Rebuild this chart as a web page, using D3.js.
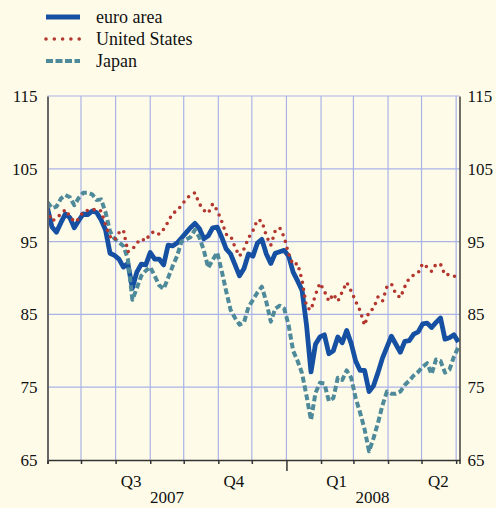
<!DOCTYPE html>
<html>
<head>
  <meta charset="utf-8">
  <title>Stock markets: euro area, United States, Japan</title>
  <script src="https://d3js.org/d3.v7.min.js"></script>
  <style>
    body{margin:0;background:#fefce9;}
    svg text{font-family:"Liberation Serif","Times New Roman",serif;fill:#111;}
  </style>
</head>
<body>
  <script>
      // observation dates (every 4 days), Jun 2007 - Jun 2008
      var dates=[
        "2007-06-01","2007-06-05","2007-06-09","2007-06-13","2007-06-17","2007-06-21","2007-06-25","2007-06-29",
        "2007-07-03","2007-07-07","2007-07-11","2007-07-15","2007-07-19","2007-07-23","2007-07-27","2007-07-31",
        "2007-08-04","2007-08-08","2007-08-12","2007-08-16","2007-08-20","2007-08-24","2007-08-28",
        "2007-09-01","2007-09-05","2007-09-09","2007-09-13","2007-09-17","2007-09-21","2007-09-25","2007-09-29",
        "2007-10-03","2007-10-07","2007-10-11","2007-10-15","2007-10-19","2007-10-23","2007-10-27","2007-10-31",
        "2007-11-04","2007-11-08","2007-11-12","2007-11-16","2007-11-20","2007-11-24","2007-11-28",
        "2007-12-02","2007-12-06","2007-12-10","2007-12-14","2007-12-18","2007-12-22","2007-12-26","2007-12-30",
        "2008-01-03","2008-01-07","2008-01-11","2008-01-15","2008-01-19","2008-01-23","2008-01-27","2008-01-31",
        "2008-02-04","2008-02-08","2008-02-12","2008-02-16","2008-02-20","2008-02-24","2008-02-28",
        "2008-03-03","2008-03-07","2008-03-11","2008-03-15","2008-03-19","2008-03-23","2008-03-27","2008-03-31",
        "2008-04-04","2008-04-08","2008-04-12","2008-04-16","2008-04-20","2008-04-24","2008-04-28",
        "2008-05-02","2008-05-06","2008-05-10","2008-05-14","2008-05-18","2008-05-22","2008-05-26","2008-05-30",
        "2008-06-03"];
      var euroArea=[
        99.6,97.0,96.3,97.6,98.8,98.3,96.9,97.9,
        98.8,98.7,99.2,99.0,98.0,96.6,93.4,93.1,
        92.6,91.5,92.0,88.6,90.8,91.9,91.8,
        93.5,92.6,92.6,91.8,94.5,94.4,94.8,95.5,
        96.2,96.9,97.5,96.8,95.4,95.8,96.9,97.0,
        95.6,94.0,93.3,91.8,90.3,91.3,93.3,
        93.0,94.8,95.3,93.3,92.0,93.4,93.6,93.8,
        93.0,90.8,89.6,88.3,83.5,77.1,80.9,81.9,
        82.2,79.6,80.0,81.9,81.1,82.8,81.0,
        78.6,77.3,77.3,74.4,75.2,77.0,79.0,80.5,
        82.0,80.9,79.8,81.3,81.4,82.3,82.6,
        83.7,83.8,83.2,83.9,84.5,81.6,81.8,82.2,
        81.2];
      var unitedStates=[
        99.3,97.8,98.2,98.8,99.4,98.5,97.7,98.1,
        99.1,99.3,99.3,99.5,99.2,97.3,95.7,95.2,
        96.2,96.6,93.6,93.9,94.8,95.4,95.1,
        96.1,96.4,96.0,96.7,97.7,98.9,99.2,100.0,
        100.8,101.4,101.7,100.2,99.3,98.9,100.2,99.3,
        97.8,96.0,95.8,94.2,93.0,94.0,95.5,
        96.5,98.0,97.8,95.8,94.5,96.5,96.9,95.6,
        93.3,91.8,92.0,89.7,86.0,85.6,87.7,89.3,
        88.2,86.8,87.8,86.8,88.1,89.4,88.2,
        86.8,85.5,83.5,85.4,85.8,87.4,86.8,88.8,
        89.2,87.8,87.3,88.8,90.0,90.4,90.7,
        92.0,91.5,90.9,91.9,91.9,90.4,90.5,90.3,
        89.8];
      var japan=[
        100.4,99.6,99.8,100.9,101.4,101.1,100.0,101.0,
        101.7,101.7,101.5,100.7,100.8,99.0,96.4,95.4,
        94.9,94.4,92.6,87.0,88.6,90.3,91.0,
        91.5,90.3,89.0,88.5,90.0,91.6,93.0,95.0,
        95.3,95.6,96.6,95.6,93.8,91.4,92.5,93.5,
        91.0,88.2,85.6,84.5,83.6,83.9,86.0,
        87.0,88.0,88.8,86.7,84.0,85.8,86.2,85.8,
        83.5,80.0,78.6,76.9,73.8,70.5,74.2,75.6,
        75.5,73.1,73.5,76.3,76.0,77.3,76.3,
        73.5,71.5,69.2,66.2,68.0,70.1,72.5,74.4,
        74.1,74.1,74.4,75.3,75.9,76.6,77.1,
        77.8,78.3,76.8,78.8,78.6,77.0,77.4,79.2,
        80.5];
      var yTicks=[65,75,85,95,105,115];
      var quarterLabels=[["2007-08-15","Q3"],["2007-11-15","Q4"],["2008-02-15","Q1"],["2008-05-16","Q2"]];
      var yearLabels=[["2007-09-16","2007"],["2008-03-18","2008"]];

      var w=496,h=508;
      var plotL=47.5,plotR=459.5,plotT=96,plotB=460;
      var parse=d3.timeParse("%Y-%m-%d");

      var svg=d3.select("body").append("svg").attr("width",w).attr("height",h);
      svg.append("rect").attr("width",w).attr("height",h).attr("fill","#fefce9");

      var x=d3.scaleTime().domain([new Date(2007,5,1),new Date(2008,5,4)]).range([plotL,plotR]);
      var y=d3.scaleLinear().domain([65,115]).range([plotB,plotT]);
      var months=d3.timeMonth.range(new Date(2007,5,1),new Date(2008,5,2));

      // grid
      svg.append("g").selectAll("line").data(yTicks.slice(1)).enter().append("line")
         .attr("x1",plotL).attr("x2",plotR).attr("y1",function(d){return y(d);}).attr("y2",function(d){return y(d);})
         .attr("stroke","#a9b3e8").attr("stroke-width",1.2);
      svg.append("g").selectAll("line").data(months.slice(1)).enter().append("line")
         .attr("x1",function(d){return x(d);}).attr("x2",function(d){return x(d);})
         .attr("y1",plotT).attr("y2",plotB)
         .attr("stroke","#a9b3e8").attr("stroke-width",1.2);

      svg.append("clipPath").attr("id","plot").append("rect")
         .attr("x",plotL).attr("y",plotT).attr("width",plotR-plotL).attr("height",plotB-plotT);

      function series(vals){
        return dates.map(function(d,i){return {date:parse(d),value:vals[i]};});
      }
      var line=d3.line().x(function(d){return x(d.date);}).y(function(d){return y(d.value);});
      var lines=[
        {name:"euro area",values:euroArea,color:"#1650a2",width:4.8,dash:null},
        {name:"Japan",values:japan,color:"#4f8a9a",width:4,dash:"6,3"},
        {name:"United States",values:unitedStates,color:"#b3372f",width:3.6,dash:"0,7"}
      ];
      var g=svg.append("g").attr("clip-path","url(#plot)");
      lines.forEach(function(s){
        g.append("path").datum(series(s.values)).attr("d",line)
         .attr("fill","none").attr("stroke",s.color).attr("stroke-width",s.width)
         .attr("stroke-linejoin","round")
         .attr("stroke-linecap",s.dash=="0,7"?"round":"butt")
         .attr("stroke-dasharray",s.dash);
      });

      // axes
      var xAxis=svg.append("g").attr("transform","translate(0,"+plotB+")")
         .call(d3.axisBottom(x).tickValues(months).tickSize(4).tickFormat(""));
      xAxis.select(".domain").attr("stroke","#333").attr("stroke-width",1.5);
      xAxis.selectAll(".tick line").attr("stroke","#333").attr("stroke-width",1.5)
         .attr("y2",function(d){return d.getMonth()==0?11:4;});

      var yLeft=svg.append("g").attr("transform","translate("+plotL+",0)")
         .call(d3.axisLeft(y).tickValues(yTicks).tickSize(0).tickPadding(10));
      yLeft.select(".domain").attr("stroke","#666").attr("stroke-width",2);
      var yRight=svg.append("g").attr("transform","translate("+plotR+",0)")
         .call(d3.axisRight(y).tickValues(yTicks).tickSize(0).tickPadding(8));
      yRight.select(".domain").attr("stroke","#222").attr("stroke-width",1.3);
      svg.selectAll(".tick text").attr("font-size",17).attr("font-family","Liberation Serif, serif").attr("fill","#111");

      svg.append("g").selectAll("text").data(quarterLabels).enter().append("text")
         .attr("x",function(d){return x(parse(d[0]));}).attr("y",487)
         .attr("text-anchor","middle").attr("font-size",17).text(function(d){return d[1];});
      svg.append("g").selectAll("text").data(yearLabels).enter().append("text")
         .attr("x",function(d){return x(parse(d[0]));}).attr("y",503)
         .attr("text-anchor","middle").attr("font-size",17).text(function(d){return d[1];});

      // legend
      var legend=svg.append("g").selectAll("g").data([lines[0],lines[2],lines[1]]).enter().append("g")
         .attr("transform",function(d,i){return "translate(0,"+(17+i*22)+")";});
      legend.append("line").attr("x1",46).attr("x2",80)
         .attr("stroke",function(d){return d.color;}).attr("stroke-width",function(d){return d.width;})
         .attr("stroke-linecap",function(d){return d.dash=="0,7"?"round":"butt";})
         .attr("stroke-dasharray",function(d){return d.dash=="0,7"?"0,8.3":d.dash=="6,3"?"7,2.5":null;});
      legend.append("text").attr("x",96).attr("y",6).attr("font-size",18).text(function(d){return d.name;});
  </script>
</body>
</html>
